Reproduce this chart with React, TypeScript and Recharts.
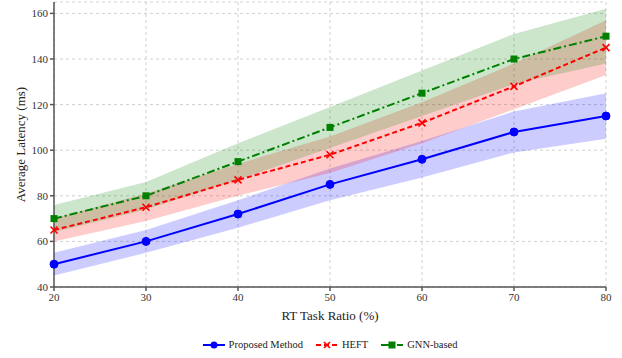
import { ComposedChart, Line, Area, XAxis, YAxis, CartesianGrid, Legend } from 'recharts';

const ratios = [20, 30, 40, 50, 60, 70, 80];
const proposed = [50, 60, 72, 85, 96, 108, 115];
const proposedLow = [45, 55, 66, 78, 88, 99, 105];
const proposedHigh = [55, 65, 78, 92, 104, 117, 125];
const heft = [65, 75, 87, 98, 112, 128, 145];
const heftLow = [60, 69, 80, 90, 103, 118, 133];
const heftHigh = [70, 81, 94, 106, 121, 138, 157];
const gnn = [70, 80, 95, 110, 125, 140, 150];
const gnnLow = [64, 74, 87, 101, 115, 129, 138];
const gnnHigh = [76, 86, 103, 119, 135, 151, 162];

const xTicks = [20, 30, 40, 50, 60, 70, 80];
const yTicks = [40, 60, 80, 100, 120, 140, 160];

const BLUE = '#0000ff';
const RED = '#ff0000';
const GREEN = '#008000';
const AXIS = '#555';
const FONT = "'Liberation Serif', 'Times New Roman', serif";

const data = ratios.map((r, i) => ({
  ratio: r,
  proposed: proposed[i],
  proposedBand: [proposedLow[i], proposedHigh[i]],
  heft: heft[i],
  heftBand: [heftLow[i], heftHigh[i]],
  gnn: gnn[i],
  gnnBand: [gnnLow[i], gnnHigh[i]],
}));

const CircleDot = (props: any) => {
  const { cx, cy, key } = props;
  return <circle key={key} cx={cx} cy={cy} r={4} fill={BLUE} stroke={BLUE} />;
};

const CrossDot = (props: any) => {
  const { cx, cy, key } = props;
  const s = 3.5;
  return (
    <g key={key}>
      <line x1={cx - s} y1={cy - s} x2={cx + s} y2={cy + s} stroke={RED} strokeWidth={1.6} />
      <line x1={cx - s} y1={cy + s} x2={cx + s} y2={cy - s} stroke={RED} strokeWidth={1.6} />
    </g>
  );
};

const SquareDot = (props: any) => {
  const { cx, cy, key } = props;
  return <rect key={key} x={cx - 3.5} y={cy - 3.5} width={7} height={7} fill={GREEN} />;
};

const legendItems = [
  { name: 'Proposed Method', color: BLUE, dash: undefined, marker: 'circle' },
  { name: 'HEFT', color: RED, dash: '5 3', marker: 'x' },
  { name: 'GNN-based', color: GREEN, dash: '8 3 2 3', marker: 'square' },
];

const LegendContent = () => (
  <div style={{ display: 'flex', justifyContent: 'center', gap: 13, fontFamily: FONT, fontSize: 10.5, color: '#222', lineHeight: '14px' }}>
    {legendItems.map((it) => (
      <div key={it.name} style={{ display: 'flex', alignItems: 'center', gap: 4 }}>
        <svg width={22} height={10}>
          <line x1={0} y1={5} x2={22} y2={5} stroke={it.color} strokeWidth={2} strokeDasharray={it.dash} />
          {it.marker === 'circle' && <circle cx={11} cy={5} r={3.5} fill={it.color} />}
          {it.marker === 'square' && <rect x={7.5} y={1.5} width={7} height={7} fill={it.color} />}
          {it.marker === 'x' && (
            <g stroke={it.color} strokeWidth={1.6}>
              <line x1={8} y1={2} x2={14} y2={8} />
              <line x1={8} y1={8} x2={14} y2={2} />
            </g>
          )}
        </svg>
        <span>{it.name}</span>
      </div>
    ))}
  </div>
);

const YLabel = (props: any) => {
  const { x, y, height } = props.viewBox;
  const cx = x + 20;
  const cy = y + height / 2;
  return (
    <text x={cx} y={cy} transform={`rotate(-90, ${cx}, ${cy})`} textAnchor="middle" dominantBaseline="central"
      fontFamily={FONT} fontSize={13} fill="#222">
      Average Latency (ms)
    </text>
  );
};

const tickStyle = { fontFamily: FONT, fontSize: 11, fill: '#333' };

export default function App() {
  return (
    <div style={{ position: 'absolute', left: 0, top: 0, width: 622, height: 358, background: '#fff', fontFamily: FONT }}>
      <ComposedChart width={622} height={358} data={data} margin={{ top: 2, right: 16, bottom: 5, left: 0 }}>
        <CartesianGrid stroke="#d0d0d0" strokeDasharray="3 3" />
        <XAxis
          dataKey="ratio"
          type="number"
          domain={[20, 80]}
          ticks={xTicks}
          height={40}
          stroke={AXIS}
          strokeWidth={1.5}
          tickSize={4}
          tick={tickStyle}
          label={{ value: 'RT Task Ratio (%)', position: 'insideBottom', offset: 7, fontFamily: FONT, fontSize: 13, fill: '#222' }}
        />
        <YAxis
          type="number"
          domain={[40, 165]}
          ticks={yTicks}
          width={54}
          stroke={AXIS}
          strokeWidth={1.5}
          tickSize={4}
          tick={tickStyle}
          label={{ content: YLabel }}
        />
        <Legend verticalAlign="bottom" height={26} content={LegendContent} wrapperStyle={{ left: 54, width: 552, top: 338 }} />
        <Area dataKey="proposedBand" fill={BLUE} fillOpacity={0.2} stroke="none" isAnimationActive={false} legendType="none" />
        <Area dataKey="heftBand" fill={RED} fillOpacity={0.2} stroke="none" isAnimationActive={false} legendType="none" />
        <Area dataKey="gnnBand" fill={GREEN} fillOpacity={0.2} stroke="none" isAnimationActive={false} legendType="none" />
        <Line dataKey="proposed" name="Proposed Method" stroke={BLUE} strokeWidth={2} dot={CircleDot} isAnimationActive={false} />
        <Line dataKey="heft" name="HEFT" stroke={RED} strokeWidth={2} strokeDasharray="5 3" dot={CrossDot} isAnimationActive={false} />
        <Line dataKey="gnn" name="GNN-based" stroke={GREEN} strokeWidth={2} strokeDasharray="8 3 2 3" dot={SquareDot} isAnimationActive={false} />
      </ComposedChart>
    </div>
  );
}
